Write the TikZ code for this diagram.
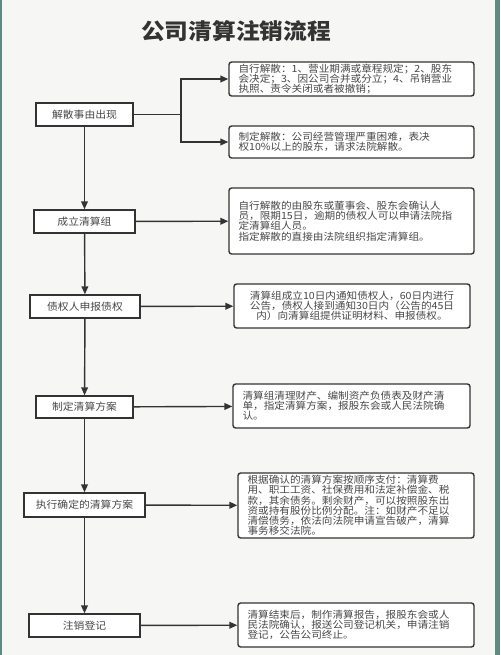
\documentclass[tikz,border=0pt]{standalone}
\usepackage{fontspec}
\setmainfont{Noto Sans CJK SC}[FakeStretch=1.08]
\usetikzlibrary{arrows.meta}
\definecolor{inkgray}{HTML}{333333}
\definecolor{textgray}{HTML}{474747}
\definecolor{paper}{HTML}{F6F6F5}
\definecolor{frame}{HTML}{5E8A82}

\begin{document}
\begin{tikzpicture}[x=0.02cm,y=-0.02cm,
  stage/.style={draw=inkgray,line width=0.8pt,fill=white,minimum height=0.46cm,
    inner sep=0pt,font=\fontsize{5.7}{5.8}\selectfont,text=textgray},
  note/.style={draw=inkgray,line width=0.8pt,fill=white,rounded corners=1.5pt,
    inner xsep=0.19cm,inner ysep=0pt,align=left,
    font=\fontsize{5.6}{5.8}\selectfont,text=textgray},
  flow/.style={draw=inkgray,line width=0.8pt,-{Triangle[length=4.5pt,width=3.8pt]}}]
  \useasboundingbox (0,0) rectangle (500,655);
  \fill[paper] (0,0) rectangle (500,655);
  \fill[frame] (0,0) rectangle (2,655);
  \fill[frame] (495,0) rectangle (500,655);
  \node[font=\fontsize{12.5}{14}\selectfont\bfseries,text=inkgray] (title) at (236,31) {公司清算注销流程};

  \node[stage,minimum width=1.94cm] (jiesan) at (84.5,114.5) {解散事由出现};
  \node[stage,minimum width=2.02cm] (chengli) at (84.5,221.5) {成立清算组};
  \node[stage,minimum width=2.2cm] (shenbao) at (85,306.5) {债权人申报债权};
  \node[stage,minimum width=1.94cm,minimum height=0.44cm] (fangan) at (84.5,407) {制定清算方案};
  \node[stage,minimum width=2.42cm,minimum height=0.48cm] (zhixing) at (84.5,505) {执行确定的清算方案};
  \node[stage,minimum width=2.22cm] (zhuxiao) at (84.5,625.5) {注销登记};

  \node[note,text width=4.52cm,minimum height=0.68cm] (zixing) at (351.5,79)
    {自行解散：1、营业期满或章程规定；2、股东\\会决定；3、因公司合并或分立；4、吊销营业\\执照、责令关闭或者被撤销；};
  \node[note,text width=4.52cm,minimum height=0.64cm] (zhiding) at (351.5,142)
    {制定解散：公司经营管理严重困难，表决\\权10\%以上的股东，请求法院解散。};
  \node[note,text width=4.52cm,minimum height=1.32cm] (renyuan) at (351.5,221)
    {自行解散的由股东或董事会、股东会确认人\\员，限期15日，逾期的债权人可以申请法院指\\定清算组人员。\\指定解散的直接由法院组织指定清算组。};
  \node[note,text width=4.34cm,minimum height=0.88cm,align=center] (tongzhi) at (352,306)
    {清算组成立10日内通知债权人，60日内进行\\公告，债权人接到通知30日内（公告的45日\\内）向清算组提供证明材料、申报债权。};
  \node[note,text width=4.36cm,minimum height=0.88cm] (qingli) at (351.5,406)
    {清算组清理财产、编制资产负债表及财产清\\单，指定清算方案，报股东会或人民法院确\\认。};
  \node[note,text width=4.34cm,minimum height=1.3cm] (zhifu) at (356,505.5)
    {根据确认的清算方案按顺序支付：清算费\\用、职工工资、社保费用和法定补偿金、税\\款，其余债务。剩余财产，可以按照股东出\\资或持有股份比例分配。注：如财产不足以\\清偿债务，依法向法院申请宣告破产，清算\\事务移交法院。};
  \node[note,text width=4.34cm,minimum height=0.88cm] (baogao) at (356,625)
    {清算结束后，制作清算报告，报股东会或人\\民法院确认，报送公司登记机关，申请注销\\登记，公告公司终止。};

  \coordinate (fork) at (181,114.5);
  \draw[draw=inkgray,line width=0.8pt] (jiesan.east) -- (fork);
  \draw[flow] (fork) |- (zixing.west);
  \draw[flow] (fork) |- (zhiding.west);
  \draw[flow] (jiesan) -- (chengli);
  \draw[flow] (chengli) -- (shenbao);
  \draw[flow] (shenbao) -- (fangan);
  \draw[flow] (fangan) -- (zhixing);
  \draw[flow] (zhixing) -- (zhuxiao);
  \draw[flow] (chengli) -- (renyuan);
  \draw[flow] (shenbao) -- (tongzhi);
  \draw[flow] (fangan) -- (qingli);
  \draw[flow] (zhixing) -- (zhifu);
  \draw[flow] (zhuxiao) -- (baogao);
\end{tikzpicture}
\end{document}
